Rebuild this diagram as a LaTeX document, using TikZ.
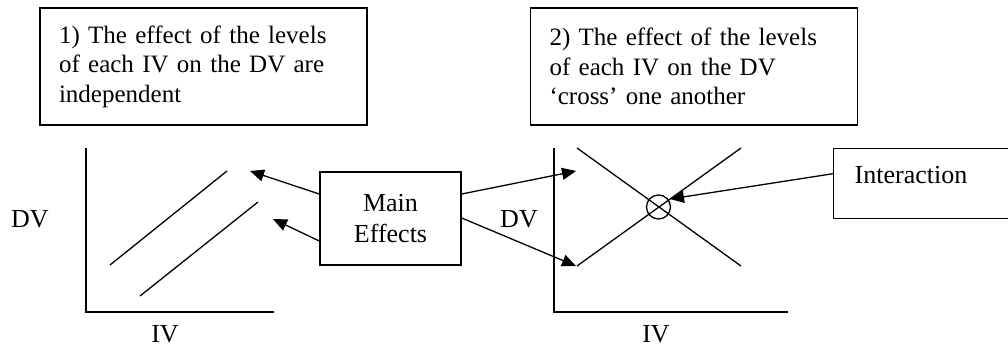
\documentclass[tikz,border=0pt]{standalone}
\usepackage{fontspec}
\setmainfont{Liberation Serif}
\usetikzlibrary{arrows.meta}
\begin{document}
\begin{tikzpicture}[x=1pt,y=-1pt,
  line width=1.3pt,
  every node/.style={font=\fontsize{26}{29.5}\selectfont, inner sep=0pt},
  box/.style={draw, line width=1.4pt, rectangle},
  textbox/.style={box, text width=289pt, inner xsep=19pt, align=left, minimum height=117pt, font=\fontsize{25}{29.5}\selectfont},
  arr/.style={-{Triangle[length=14pt,width=12pt]}}]
\useasboundingbox (0,0) rectangle (1008,346);
\clip (0,0) rectangle (1008,346);
% top boxes
\node[textbox] (b1) at (203.5,66.5) {1) The effect of the levels\\of each IV on the DV are\\independent};
\node[textbox] (b2) at (694,66.5) {2) The effect of the levels\\of each IV on the DV\\`cross' one another};
% left plot
\draw (86,148) -- (86,312) -- (274,312);
\draw (110,265) -- (227,171);
\draw (140,296) -- (258,202);
\node[anchor=base] (dv1) at (30,227) {DV};
\node[anchor=base] (iv1) at (165,342) {IV};
% right plot
\draw (554,148) -- (554,312) -- (788,312);
\draw (577,148) -- (741,266);
\draw (577,266) -- (741,148);
\node[draw, circle, line width=1.3pt, minimum size=24pt] (cross) at (658.5,207) {};
\node[anchor=base] (dv2) at (519,227) {DV};
\node[anchor=base] (iv2) at (656,342) {IV};
% main effects
\node[box, minimum width=141pt, minimum height=93pt, align=center] (main) at (390.5,218.5) {Main\\[2pt]Effects};
% interaction
\node[box, minimum width=200pt, minimum height=70pt, anchor=north west] (inter) at (833,148) {};
\node[anchor=base west] (intertext) at (854,183) {Interaction};
% arrow targets
\coordinate (t1) at (250,171);
\coordinate (t2) at (273,219);
\coordinate (t3) at (576,171);
\coordinate (t4) at (576,266);
\coordinate (t5) at (670,199);
\draw[arr] ([yshift=24.5pt]main.west) -- (t1);
\draw[arr] ([yshift=-22.5pt]main.west) -- (t2);
\draw[arr] ([yshift=24.5pt]main.east) -- (t3);
\draw[arr] ([yshift=0.5pt]main.east) -- (t4);
\draw[arr] ([yshift=10pt]inter.west) -- (t5);
\end{tikzpicture}
\end{document}
